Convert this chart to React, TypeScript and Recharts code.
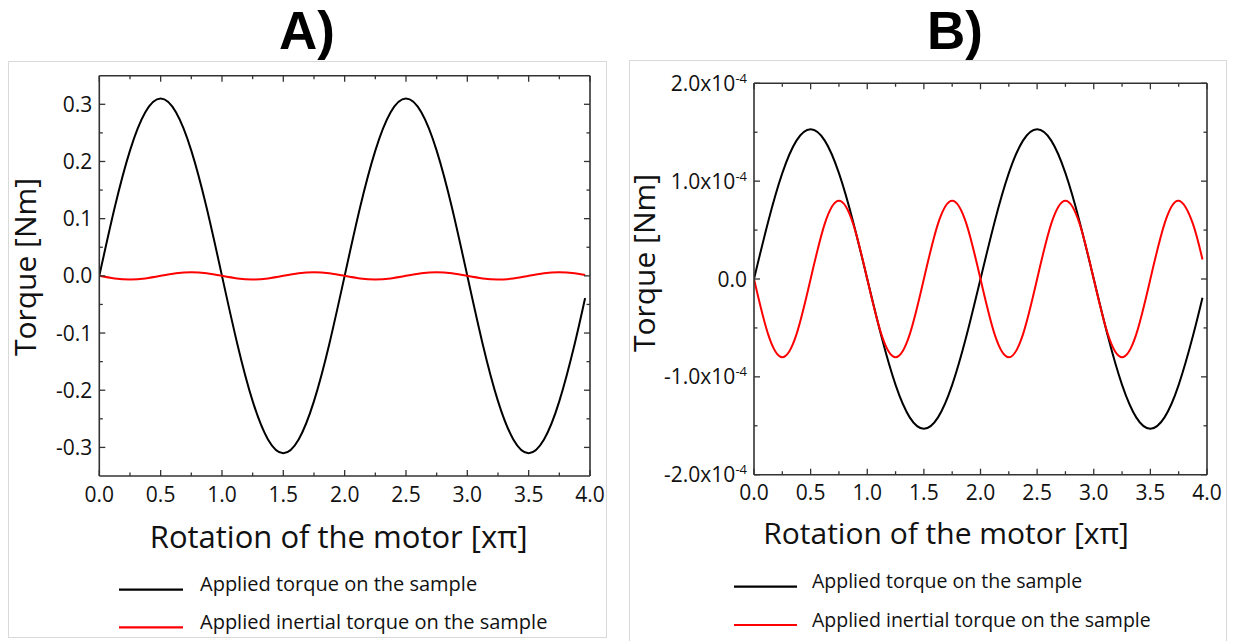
import React from "react";
import { LineChart, Line, XAxis, YAxis, Legend } from "recharts";

// rotation of the motor, in units of pi
const rotation = [
  0, 0.125, 0.25, 0.375, 0.5, 0.625, 0.75, 0.875, 1, 1.125, 1.25, 1.375, 1.5,
  1.625, 1.75, 1.875, 2, 2.125, 2.25, 2.375, 2.5, 2.625, 2.75, 2.875, 3, 3.125,
  3.25, 3.375, 3.5, 3.625, 3.75, 3.875, 3.96,
];

// panel A, torque in Nm
const appliedTorqueA = [
  0, 0.119, 0.219, 0.286, 0.31, 0.286, 0.219, 0.119, 0, -0.119, -0.219, -0.286,
  -0.31, -0.286, -0.219, -0.119, 0, 0.119, 0.219, 0.286, 0.31, 0.286, 0.219,
  0.119, 0, -0.119, -0.219, -0.286, -0.31, -0.286, -0.219, -0.119, -0.039,
];
const inertialTorqueA = [
  0, -0.0046, -0.0065, -0.0046, 0, 0.0046, 0.0065, 0.0046, 0, -0.0046, -0.0065,
  -0.0046, 0, 0.0046, 0.0065, 0.0046, 0, -0.0046, -0.0065, -0.0046, 0, 0.0046,
  0.0065, 0.0046, 0, -0.0046, -0.0065, -0.0046, 0, 0.0046, 0.0065, 0.0046,
  0.0016,
];

// panel B, torque in Nm
const appliedTorqueB = [
  0, 0.586e-4, 1.082e-4, 1.414e-4, 1.53e-4, 1.414e-4, 1.082e-4, 0.586e-4, 0,
  -0.586e-4, -1.082e-4, -1.414e-4, -1.53e-4, -1.414e-4, -1.082e-4, -0.586e-4,
  0, 0.586e-4, 1.082e-4, 1.414e-4, 1.53e-4, 1.414e-4, 1.082e-4, 0.586e-4, 0,
  -0.586e-4, -1.082e-4, -1.414e-4, -1.53e-4, -1.414e-4, -1.082e-4, -0.586e-4,
  -0.192e-4,
];
const inertialTorqueB = [
  0, -0.566e-4, -0.8e-4, -0.566e-4, 0, 0.566e-4, 0.8e-4, 0.566e-4, 0,
  -0.566e-4, -0.8e-4, -0.566e-4, 0, 0.566e-4, 0.8e-4, 0.566e-4, 0, -0.566e-4,
  -0.8e-4, -0.566e-4, 0, 0.566e-4, 0.8e-4, 0.566e-4, 0, -0.566e-4, -0.8e-4,
  -0.566e-4, 0, 0.566e-4, 0.8e-4, 0.566e-4, 0.199e-4,
];

const xTicks = [0, 0.25, 0.5, 0.75, 1, 1.25, 1.5, 1.75, 2, 2.25, 2.5, 2.75, 3, 3.25, 3.5, 3.75, 4];
const xMajor = [0, 0.5, 1, 1.5, 2, 2.5, 3, 3.5, 4];
const yTicksA = [-0.3, -0.25, -0.2, -0.15, -0.1, -0.05, 0, 0.05, 0.1, 0.15, 0.2, 0.25, 0.3];
const yMajorA = [-0.3, -0.2, -0.1, 0, 0.1, 0.2, 0.3];
const yTicksB = [-2e-4, -1.5e-4, -1e-4, -0.5e-4, 0, 0.5e-4, 1e-4, 1.5e-4, 2e-4];
const yMajorB = [-2e-4, -1e-4, 0, 1e-4, 2e-4];

const seriesNames = ["Applied torque on the sample", "Applied inertial torque on the sample"];

const dataA = rotation.map((x, i) => ({ x, applied: appliedTorqueA[i], inertial: inertialTorqueA[i] }));
const dataB = rotation.map((x, i) => ({ x, applied: appliedTorqueB[i], inertial: inertialTorqueB[i] }));

const FONT = "'Open Sans', sans-serif";
const AXIS = "#333";

const isMajor = (list: number[], v: number) => list.some((m) => Math.abs(m - v) < 1e-12);

const bottomTick = (majors: number[]) => (p: any) => {
  const major = isMajor(majors, p.payload.value);
  return (
    <g>
      <line x1={p.x} x2={p.x} y1={p.y} y2={p.y - (major ? 6 : 3.5)} stroke={AXIS} strokeWidth={1.3} />
      {major && (
        <text x={p.x} y={p.y + 25.5} textAnchor="middle" fontSize={21} fontFamily={FONT} fill="#111">
          {p.payload.value.toFixed(1)}
        </text>
      )}
    </g>
  );
};

const topTick = (majors: number[]) => (p: any) => {
  const major = isMajor(majors, p.payload.value);
  return <line x1={p.x} x2={p.x} y1={p.y} y2={p.y + (major ? 6 : 3.5)} stroke={AXIS} strokeWidth={1.3} />;
};

const rightTick = (majors: number[]) => (p: any) => {
  const major = isMajor(majors, p.payload.value);
  return <line x1={p.x} x2={p.x - (major ? 6 : 3.5)} y1={p.y} y2={p.y} stroke={AXIS} strokeWidth={1.3} />;
};

const leftTickA = (p: any) => {
  const major = isMajor(yMajorA, p.payload.value);
  return (
    <g>
      <line x1={p.x} x2={p.x + (major ? 6 : 3.5)} y1={p.y} y2={p.y} stroke={AXIS} strokeWidth={1.3} />
      {major && (
        <text x={p.x - 7} y={p.y + 7.5} textAnchor="end" fontSize={21} fontFamily={FONT} fill="#111">
          {p.payload.value.toFixed(1)}
        </text>
      )}
    </g>
  );
};

const leftTickB = (p: any) => {
  const v = p.payload.value;
  const major = isMajor(yMajorB, v);
  return (
    <g>
      <line x1={p.x} x2={p.x + (major ? 6 : 3.5)} y1={p.y} y2={p.y} stroke={AXIS} strokeWidth={1.3} />
      {major && (
        <text x={p.x - 7} y={p.y + 7.5} textAnchor="end" fontSize={21} fontFamily={FONT} fill="#111">
          {Math.abs(v) < 1e-12 ? (
            <tspan>0.0</tspan>
          ) : (
            <>
              <tspan>{(v / 1e-4).toFixed(1)}x10</tspan>
              <tspan dy={-8} fontSize={13}>-4</tspan>
            </>
          )}
        </text>
      )}
    </g>
  );
};

// legend rows follow the series order, not the library's sorted payload
const makeLegend = (lineX2: number, textX: number, rowY: number[], fontSize: number) => (props: any) => {
  const payload = props.payload || [];
  const items = seriesNames
    .map((name) => payload.find((it: any) => it.value === name))
    .filter(Boolean);
  return (
    <svg width={520} height={85} style={{ display: "block" }}>
      {items.map((it: any, i: number) => (
        <g key={i}>
          <line x1={9} x2={lineX2} y1={rowY[i]} y2={rowY[i]} stroke={it.color} strokeWidth={2.2} />
          <text x={textX} y={rowY[i] + 1.5} fontSize={fontSize} fontFamily={FONT} fill="#111">
            {it.value}
          </text>
        </g>
      ))}
    </svg>
  );
};

const xTitle = (dx: number, dy: number, size: number) => (p: any) => {
  const vb = p.viewBox;
  return (
    <text x={vb.x + vb.width / 2 + dx} y={vb.y + dy} textAnchor="middle" fontSize={size} fontFamily={FONT} fill="#111">
      Rotation of the motor [xπ]
    </text>
  );
};

const yTitle = (bx: number, cy: number) => () => (
  <text
    x={bx}
    y={cy}
    textAnchor="middle"
    fontSize={30}
    fontFamily={FONT}
    fill="#111"
    transform={`rotate(-90, ${bx}, ${cy})`}
  >
    Torque [Nm]
  </text>
);

const Panel = ({
  data, width, margin, yWidth, yDomain, yTicks, yMajor, leftTick, xTitleFn, yTitleFn, legendFn, legendPos,
}: any) => (
  <LineChart width={width} height={641} data={data} margin={margin}>
    <XAxis
      dataKey="x"
      type="number"
      domain={[0, 4]}
      ticks={xTicks}
      interval={0}
      allowDataOverflow
      height={60}
      tickSize={0}
      tickMargin={0}
      tickLine={false}
      axisLine={{ stroke: AXIS, strokeWidth: 1.6 }}
      tick={bottomTick(xMajor)}
      label={{ content: xTitleFn }}
    />
    <XAxis
      xAxisId="top"
      orientation="top"
      dataKey="x"
      type="number"
      domain={[0, 4]}
      ticks={xTicks}
      interval={0}
      allowDataOverflow
      height={1}
      tickSize={0}
      tickMargin={0}
      tickLine={false}
      axisLine={{ stroke: AXIS, strokeWidth: 1.6 }}
      tick={topTick(xMajor)}
    />
    <YAxis
      type="number"
      domain={yDomain}
      ticks={yTicks}
      interval={0}
      allowDataOverflow
      width={yWidth}
      tickSize={0}
      tickMargin={0}
      tickLine={false}
      axisLine={{ stroke: AXIS, strokeWidth: 1.6 }}
      tick={leftTick}
      label={{ content: yTitleFn }}
    />
    <YAxis
      yAxisId="right"
      orientation="right"
      type="number"
      domain={yDomain}
      ticks={yTicks}
      interval={0}
      allowDataOverflow
      width={1}
      tickSize={0}
      tickMargin={0}
      tickLine={false}
      axisLine={{ stroke: AXIS, strokeWidth: 1.6 }}
      tick={rightTick(yMajor)}
    />
    <Legend
      layout="vertical"
      align="center"
      verticalAlign="middle"
      wrapperStyle={{ position: "absolute", left: legendPos[0], top: legendPos[1], width: 520, height: 85 }}
      content={legendFn}
    />
    <Line
      type="natural"
      dataKey="applied"
      name={seriesNames[0]}
      stroke="#000000"
      strokeWidth={2}
      dot={false}
      isAnimationActive={false}
    />
    <Line
      type="natural"
      dataKey="inertial"
      name={seriesNames[1]}
      stroke="#ff0000"
      strokeWidth={2}
      dot={false}
      isAnimationActive={false}
    />
  </LineChart>
);

export default function App() {
  return (
    <div style={{ position: "absolute", left: 0, top: 0, width: 1233, height: 641, background: "#fff", overflow: "hidden" }}>
      <svg width={1233} height={641} style={{ position: "absolute", left: 0, top: 0 }}>
        <rect x={8.5} y={61.5} width={598} height={576} fill="none" stroke="#d9d9d9" />
        <rect x={629.5} y={60.5} width={597} height={590} fill="none" stroke="#d9d9d9" />
        <text x={307} y={49} textAnchor="middle" fontSize={53} fontWeight="bold" fontFamily="'Liberation Sans', Arial, sans-serif">
          A)
        </text>
        <text x={955} y={49} textAnchor="middle" fontSize={53} fontWeight="bold" fontFamily="'Liberation Sans', Arial, sans-serif">
          B)
        </text>
      </svg>
      <div style={{ position: "absolute", left: 0, top: 0 }}>
        <Panel
          data={dataA}
          width={615}
          margin={{ top: 74.7, right: 24, bottom: 105, left: 39.3 }}
          yWidth={60}
          yDomain={[-0.35, 0.35]}
          yTicks={yTicksA}
          yMajor={yMajorA}
          leftTick={leftTickA}
          xTitleFn={xTitle(-6, 71.5, 31)}
          yTitleFn={yTitle(36, 267)}
          legendFn={makeLegend(73, 90, [29.7, 67.4], 20)}
          legendPos={[110, 560]}
        />
      </div>
      <div style={{ position: "absolute", left: 620, top: 0 }}>
        <Panel
          data={dataB}
          width={613}
          margin={{ top: 82.3, right: 25, bottom: 106.3, left: 64 }}
          yWidth={70}
          yDomain={[-2e-4, 2e-4]}
          yTicks={yTicksB}
          yMajor={yMajorB}
          leftTick={leftTickB}
          xTitleFn={xTitle(-34.5, 69.4, 30)}
          yTitleFn={yTitle(35, 263)}
          legendFn={makeLegend(72, 87, [26.6, 65], 19.5)}
          legendPos={[105, 560]}
        />
      </div>
    </div>
  );
}
